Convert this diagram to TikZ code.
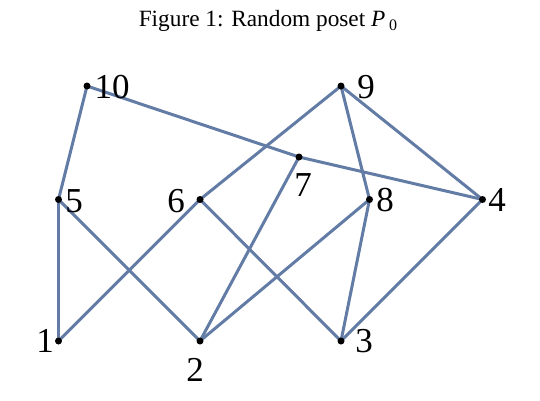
\documentclass[tikz,border=0pt]{standalone}
\usepackage{fontspec}
\setmainfont{Liberation Serif}
\definecolor{edgeblue}{RGB}{98,124,166}
\tikzset{
  vdot/.style={circle,fill=black,inner sep=0pt,minimum size=7pt},
  lab/.style={inner sep=0pt,font=\fontsize{35}{35}\selectfont},
  edge/.style={draw=edgeblue,line width=3pt}
}
\begin{document}
\begin{tikzpicture}[x=1pt,y=-1pt]
\useasboundingbox (0,0) rectangle (540,400);
\node[font=\fontsize{23.3}{23.3}\selectfont] (title) at (268,21) {Figure 1: Random poset \textit{P}\,\raisebox{-3.5pt}{\fontsize{16}{16}\selectfont 0}};
% vertices
\coordinate (c10) at (87,86);
\coordinate (c9) at (341,86);
\coordinate (c7) at (299,157);
\coordinate (c5) at (58.5,199.5);
\coordinate (c6) at (200,199.5);
\coordinate (c8) at (369.5,199.5);
\coordinate (c4) at (482.5,199.5);
\coordinate (c1) at (58.5,341);
\coordinate (c2) at (200,341);
\coordinate (c3) at (341,341);
% edges
\draw[edge] (c10) -- (c5);
\draw[edge] (c10) -- (c7);
\draw[edge] (c7) -- (c4);
\draw[edge] (c5) -- (c1);
\draw[edge] (c5) -- (c2);
\draw[edge] (c6) -- (c1);
\draw[edge] (c6) -- (c3);
\draw[edge] (c9) -- (c6);
\draw[edge] (c9) -- (c8);
\draw[edge] (c9) -- (c4);
\draw[edge] (c7) -- (c2);
\draw[edge] (c8) -- (c2);
\draw[edge] (c8) -- (c3);
\draw[edge] (c4) -- (c3);
% dots
\foreach \v in {10,9,7,5,6,8,4,1,2,3} \node[vdot] (v\v) at (c\v) {};
% labels
\node[lab] (l10) at (112,87) {10};
\node[lab] (l9) at (366,87) {9};
\node[lab] (l7) at (303,185) {7};
\node[lab] (l5) at (74,201) {5};
\node[lab] (l6) at (176,201) {6};
\node[lab] (l8) at (385,200) {8};
\node[lab] (l4) at (497,200) {4};
\node[lab] (l1) at (45,341) {1};
\node[lab] (l2) at (195,370) {2};
\node[lab] (l3) at (364,341) {3};
\end{tikzpicture}
\end{document}
